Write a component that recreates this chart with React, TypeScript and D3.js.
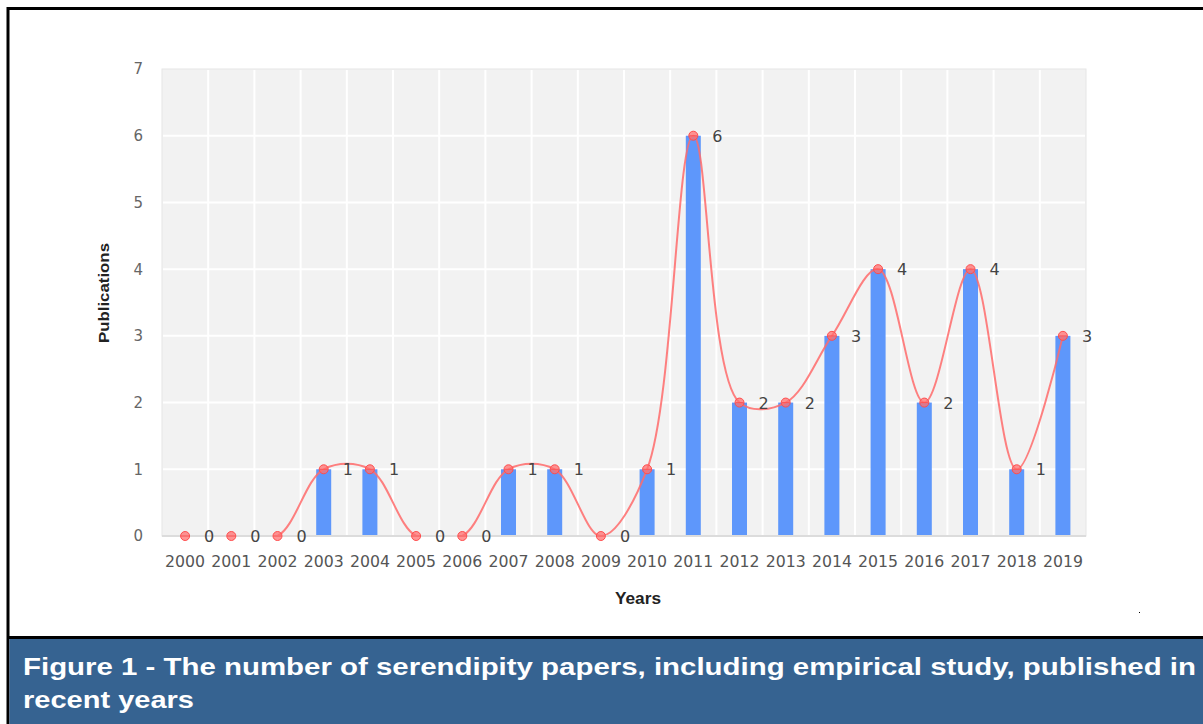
import React from "react";
import * as d3 from "d3";

const years = ["2000","2001","2002","2003","2004","2005","2006","2007","2008","2009","2010","2011","2012","2013","2014","2015","2016","2017","2018","2019"];
const publications = [0,0,0,1,1,0,0,1,1,0,1,6,2,2,3,4,2,4,1,3];
const yTicks = [0,1,2,3,4,5,6,7];
const captionLines = [
  "Figure 1 - The number of serendipity papers, including empirical study, published in",
  "recent years",
];
const captionWidths = [1173, 171];

const W = 1203, H = 724;
const left = 162, right = 1086, top = 69, bottom = 536;

export default function App() {
  const x = d3.scaleBand<string>().domain(years).range([left, right]).padding(0);
  const y = d3.scaleLinear().domain([0, 7]).range([bottom, top]);
  const bw = 15;
  const cx = (yr: string) => (x(yr) as number) + x.bandwidth() / 2;
  const pts: [number, number][] = years.map((yr, i) => [cx(yr), y(publications[i])]);
  const line = d3.line().curve(d3.curveCatmullRom.alpha(0.5))(pts) || "";
  const tickFont = "'DejaVu Sans', Verdana, sans-serif";
  const boldFont = "'Liberation Sans', Arial, sans-serif";

  return (
    <div style={{ position: "absolute", left: 0, top: 0 }}>
      <svg width={W} height={H} style={{ display: "block" }}>
        <defs>
          <clipPath id="plotClip">
            <rect x={left} y={top - 20} width={right - left + 20} height={bottom - top + 20} />
          </clipPath>
        </defs>
        <rect x={0} y={0} width={W} height={H} fill="#fff" />
        {/* plot background */}
        <rect x={left} y={top} width={right - left} height={bottom - top} fill="#f2f2f2" stroke="#e6e6e6" strokeWidth={1} />
        {years.slice(1).map((yr) => (
          <line key={"v" + yr} x1={x(yr)} x2={x(yr)} y1={top + 1} y2={bottom} stroke="#fff" strokeWidth={2} />
        ))}
        {yTicks.slice(1, -1).map((t) => (
          <line key={"h" + t} x1={left + 1} x2={right - 1} y1={y(t)} y2={y(t)} stroke="#fff" strokeWidth={2} />
        ))}
        {/* bars */}
        {years.map((yr, i) => (
          <rect key={"b" + yr} x={cx(yr) - bw / 2} y={y(publications[i])} width={bw} height={bottom - y(publications[i])} fill="#5e97fb" />
        ))}
        {/* curve */}
        <path d={line} fill="none" stroke="#ff6b6b" strokeOpacity={0.85} strokeWidth={2} clipPath="url(#plotClip)" />
        {/* baseline */}
        <line x1={left} x2={right} y1={bottom} y2={bottom} stroke="#dcdcdc" strokeWidth={2} />
        {pts.map(([px, py], i) => (
          <g key={"m" + i}>
            <circle cx={px} cy={py} r={4.5} fill="#ff7070" fillOpacity={0.75} stroke="#ff4d4d" strokeWidth={1} />
            <line x1={px - 4} x2={px + 4} y1={py} y2={py} stroke="#ff4d4d" strokeWidth={1} strokeOpacity={0.8} />
          </g>
        ))}
        {/* data labels */}
        {years.map((yr, i) => (
          <text key={"l" + yr} x={cx(yr) + 19} y={y(publications[i])} dy="0.38em" fontFamily={tickFont} fontSize={16} fill="#444">
            {publications[i]}
          </text>
        ))}
        {/* y tick labels */}
        {yTicks.map((t) => (
          <text key={"y" + t} x={143} y={y(t)} dy="0.36em" textAnchor="end" fontFamily={tickFont} fontSize={15} fill="#666">
            {t}
          </text>
        ))}
        {/* x tick labels */}
        {years.map((yr) => (
          <text key={"x" + yr} x={cx(yr)} y={567} textAnchor="middle" fontFamily={tickFont} fontSize={16} textLength={40} lengthAdjust="spacingAndGlyphs" fill="#555">
            {yr}
          </text>
        ))}
        <text x={638} y={604} textAnchor="middle" fontFamily={boldFont} fontWeight="bold" fontSize={16} textLength={46} lengthAdjust="spacingAndGlyphs" fill="#222">
          Years
        </text>
        <text transform={`translate(109, 293) rotate(-90)`} textAnchor="middle" fontFamily={boldFont} fontWeight="bold" fontSize={15} textLength={100} lengthAdjust="spacingAndGlyphs" fill="#222">
          Publications
        </text>
        {/* outer frame */}
        <line x1={8} x2={W} y1={8.5} y2={8.5} stroke="#000" strokeWidth={3} />
        <line x1={8} x2={8} y1={7} y2={H} stroke="#000" strokeWidth={3} />
        <rect x={9.5} y={639} width={W - 9.5} height={H - 639} fill="#366391" />
        <line x1={8} x2={W} y1={637.5} y2={637.5} stroke="#000" strokeWidth={3} />
        {captionLines.map((c, i) => (
          <text key={"c" + i} x={23} y={675 + i * 33} fontFamily={boldFont} fontWeight="bold" fontSize={24} textLength={captionWidths[i]} lengthAdjust="spacingAndGlyphs" fill="#fff">
            {c}
          </text>
        ))}
        <rect x={1139} y={612} width={1} height={1} fill="#000" />
      </svg>
    </div>
  );
}
